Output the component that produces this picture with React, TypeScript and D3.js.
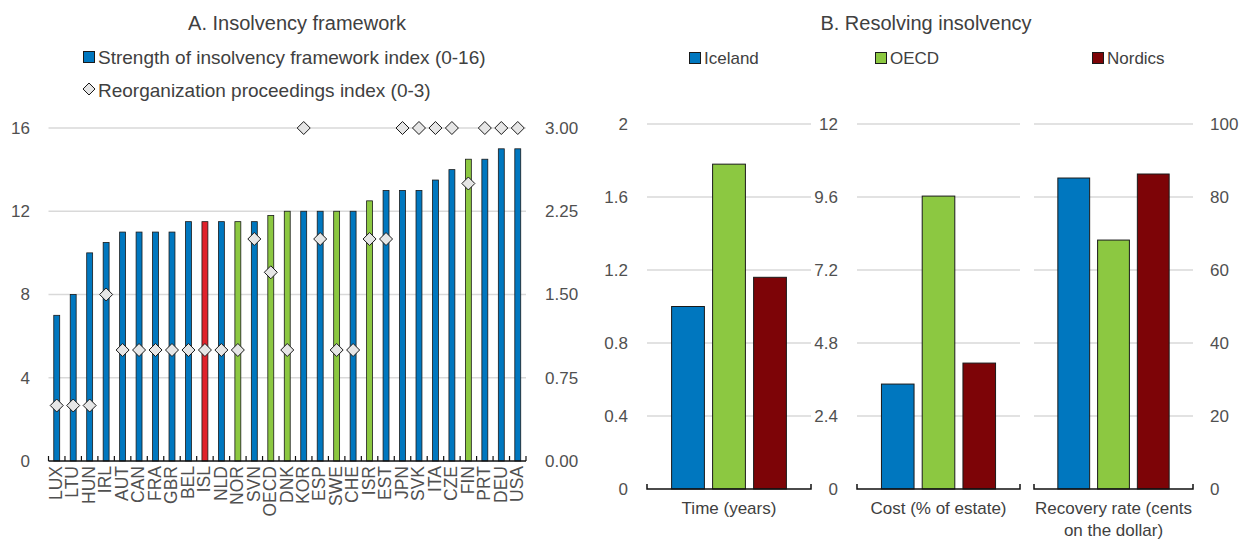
import React from 'react';
import * as d3 from 'd3';

// Panel A data
const countries = ['LUX', 'LTU', 'HUN', 'IRL', 'AUT', 'CAN', 'FRA', 'GBR', 'BEL', 'ISL', 'NLD', 'NOR', 'SVN', 'OECD', 'DNK', 'KOR', 'ESP', 'SWE', 'CHE', 'ISR', 'EST', 'JPN', 'SVK', 'ITA', 'CZE', 'FIN', 'PRT', 'DEU', 'USA'];
const strengthIndex = [7, 8, 10, 10.5, 11, 11, 11, 11, 11.5, 11.5, 11.5, 11.5, 11.5, 11.8, 12, 12, 12, 12, 12, 12.5, 13, 13, 13, 13.5, 14, 14.5, 14.5, 15, 15];
const reorgIndex = [0.5, 0.5, 0.5, 1.5, 1, 1, 1, 1, 1, 1, 1, 1, 2, 1.7, 1, 3, 2, 1, 1, 2, 2, 3, 3, 3, 3, 2.5, 3, 3, 3];
const greenCountries = ['NOR', 'OECD', 'DNK', 'SWE', 'ISR', 'FIN'];
const redCountries = ['ISL'];
const leftTicks = [0, 4, 8, 12, 16];
const rightTicks = [0, 0.75, 1.5, 2.25, 3];

// Panel B data
const seriesNames = ['Iceland', 'OECD', 'Nordics'];
const metricLabels = [['Time (years)'], ['Cost (% of estate)'], ['Recovery rate (cents', 'on the dollar)']];
const timeValues = [1.0, 1.78, 1.16];
const costValues = [3.45, 9.63, 4.14];
const recoveryValues = [85.2, 68.2, 86.3];
const timeTicks = [0, 0.4, 0.8, 1.2, 1.6, 2];
const costTicks = [0, 2.4, 4.8, 7.2, 9.6, 12];
const recoveryTicks = [0, 20, 40, 60, 80, 100];

const BLUE = '#0077bf';
const GREEN = '#8cc841';
const RED = '#e0212a';
const DARKRED = '#7d0407';
const GRID = '#d9d9d9';
const TEXT = '#404040';
const FONT = '"Liberation Sans", Arial, sans-serif';

const PanelA: React.FC = () => {
  const x0 = 48.5, x1 = 526, yBottom = 461, yTop = 128;
  const y = d3.scaleLinear().domain([0, 16]).range([yBottom, yTop]);
  const y2 = d3.scaleLinear().domain([0, 3]).range([yBottom, yTop]);
  const x = d3.scaleBand<string>().domain(countries).range([x0, x1]).paddingInner(0.64).paddingOuter(0.32);
  const step = x.step();
  const colorOf = (c: string) => redCountries.includes(c) ? RED : greenCountries.includes(c) ? GREEN : BLUE;
  const diamond = (cx: number, cy: number, r: number) => `M${cx},${cy - r}L${cx + r},${cy}L${cx},${cy + r}L${cx - r},${cy}Z`;

  return (
    <g fontFamily={FONT} fill={TEXT}>
      <text x={297} y={30} fontSize={20} textAnchor="middle">A. Insolvency framework</text>
      <rect x={83.5} y={51.5} width={11} height={11} fill={BLUE} stroke="#1a1a1a" strokeWidth={1} />
      <text x={98} y={63.5} fontSize={19}>Strength of insolvency framework index (0-16)</text>
      <path d={diamond(89, 89, 6)} fill="#e6e6e6" stroke="#1a1a1a" strokeWidth={1} />
      <text x={98} y={96.5} fontSize={19}>Reorganization proceedings index (0-3)</text>

      {leftTicks.filter(t => t > 0).map(t => (
        <line key={t} x1={x0} x2={x1} y1={y(t)} y2={y(t)} stroke={GRID} strokeWidth={1.5} />
      ))}
      {leftTicks.map(t => (
        <text key={'l' + t} x={30} y={y(t)} dy="0.35em" fontSize={17} textAnchor="end" fill="#505050">{t}</text>
      ))}
      {rightTicks.map(t => (
        <text key={'r' + t} x={545} y={y2(t)} dy="0.35em" fontSize={17} fill="#505050">{t.toFixed(2)}</text>
      ))}

      {countries.map((c, i) => (
        <rect key={c} x={x(c)!} y={y(strengthIndex[i])} width={x.bandwidth()} height={yBottom - y(strengthIndex[i])}
          fill={colorOf(c)} stroke="#1a1a1a" strokeWidth={0.8} />
      ))}

      <line x1={x0} x2={x1} y1={yBottom} y2={yBottom} stroke="#111" strokeWidth={1.5} />
      {d3.range(countries.length + 1).map(i => (
        <line key={'t' + i} x1={x0 + i * step} x2={x0 + i * step} y1={yBottom} y2={yBottom - 5} stroke="#111" strokeWidth={1.2} />
      ))}

      {countries.map((c, i) => (
        <path key={'d' + c} d={diamond(x(c)! + x.bandwidth() / 2, y2(reorgIndex[i]), 6.5)} fill="#e6e6e6" stroke="#1a1a1a" strokeWidth={1} />
      ))}

      {countries.map(c => {
        const cx = x(c)! + x.bandwidth() / 2;
        return (
          <text key={'x' + c} transform={`translate(${cx},466) rotate(-90)`} dy="0.3em" fontSize={17.5} textAnchor="end" fill="#505050">{c}</text>
        );
      })}
    </g>
  );
};

const PanelB: React.FC = () => {
  const yBottom = 489, yTop = 124;
  const colors = [BLUE, GREEN, DARKRED];
  const subPanels = [
    { range: [647, 811], values: timeValues, ticks: timeTicks, labelX: 628, anchor: 'end' },
    { range: [857, 1020], values: costValues, ticks: costTicks, labelX: 838, anchor: 'end' },
    { range: [1034, 1193], values: recoveryValues, ticks: recoveryTicks, labelX: 1210, anchor: 'start' },
  ];
  const legendX = [689, 875, 1092];

  return (
    <g fontFamily={FONT} fill={TEXT}>
      <text x={926} y={30} fontSize={20} textAnchor="middle">B. Resolving insolvency</text>
      {seriesNames.map((s, i) => (
        <g key={s}>
          <rect x={legendX[i] + 0.5} y={52.5} width={11} height={11} fill={colors[i]} stroke="#1a1a1a" strokeWidth={1} />
          <text x={legendX[i] + 15} y={64} fontSize={17}>{s}</text>
        </g>
      ))}
      {subPanels.map((p, k) => {
        const maxV = p.ticks[p.ticks.length - 1];
        const y = d3.scaleLinear().domain([0, maxV]).range([yBottom, yTop]);
        const x = d3.scaleBand<string>().domain(seriesNames).range(p.range as [number, number]).paddingInner(0.2).paddingOuter(0.6);
        const cx = (p.range[0] + p.range[1]) / 2;
        return (
          <g key={k}>
            {p.ticks.filter(t => t > 0).map(t => (
              <line key={t} x1={p.range[0]} x2={p.range[1]} y1={y(t)} y2={y(t)} stroke={GRID} strokeWidth={1.5} />
            ))}
            {p.ticks.map(t => (
              <text key={'l' + t} x={p.labelX} y={y(t)} dy="0.35em" fontSize={17} textAnchor={p.anchor as any} fill="#505050">{String(t)}</text>
            ))}
            {seriesNames.map((s, i) => (
              <rect key={s} x={x(s)!} y={y(p.values[i])} width={x.bandwidth()} height={yBottom - y(p.values[i])}
                fill={colors[i]} stroke="#1a1a1a" strokeWidth={1} />
            ))}
            <path d={`M${p.range[0]},${yBottom - 5}V${yBottom}H${p.range[1]}V${yBottom - 5}`} fill="none" stroke="#111" strokeWidth={1.5} />
            {metricLabels[k].map((line, j) => (
              <text key={j} x={cx} y={514 + j * 22} fontSize={17} textAnchor="middle">{line}</text>
            ))}
          </g>
        );
      })}
    </g>
  );
};

const App: React.FC = () => (
  <svg width={1249} height={541} style={{ position: 'absolute', left: 0, top: 0, background: '#fff' }}>
    <PanelA />
    <PanelB />
  </svg>
);

export default App;
